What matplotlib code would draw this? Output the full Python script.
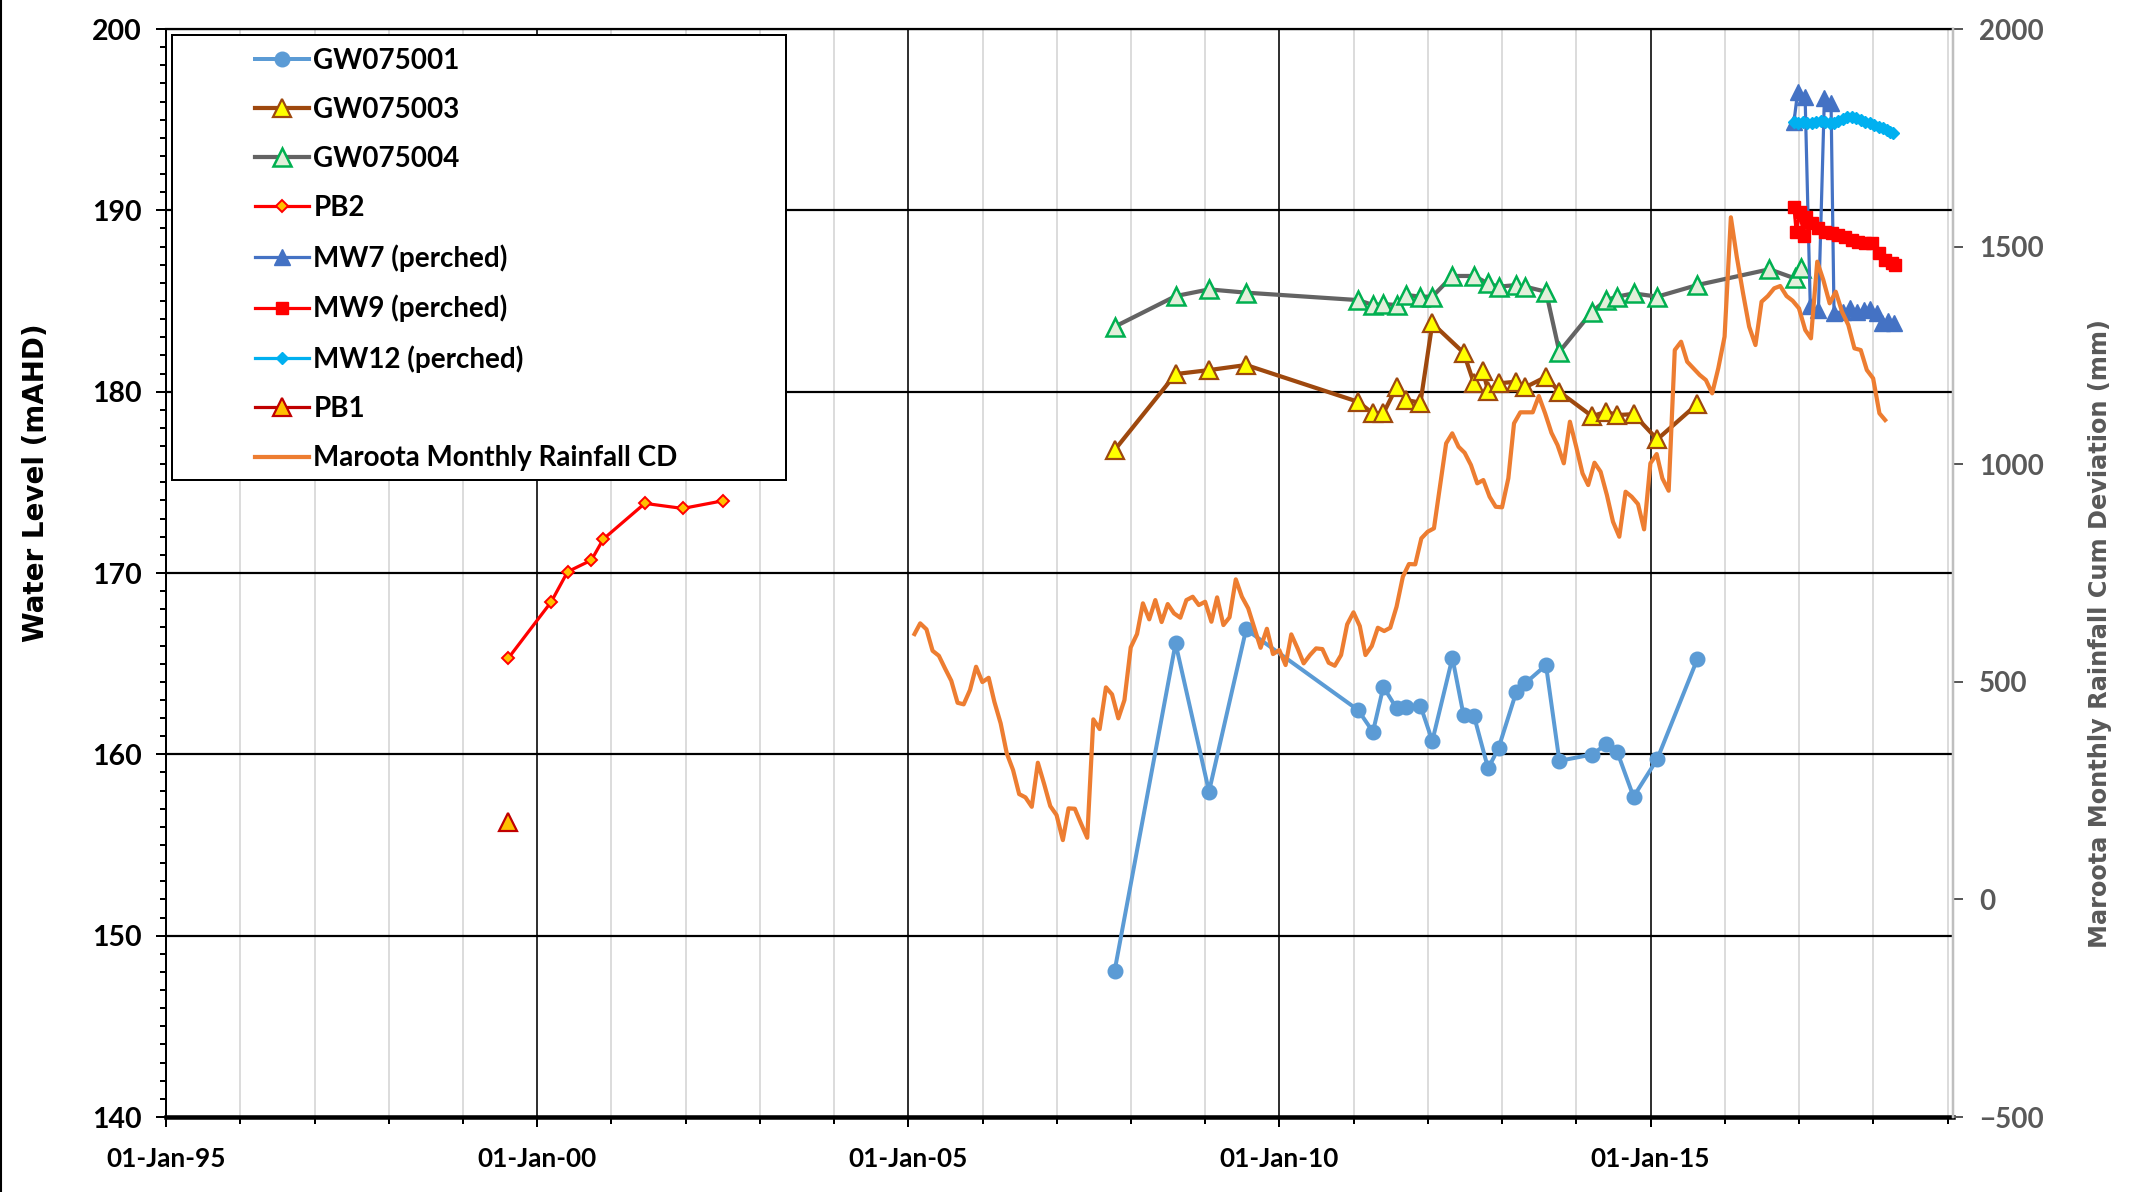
import datetime as dt
import numpy as np
import pandas as pd
import matplotlib
matplotlib.use("Agg")
import matplotlib.pyplot as plt
import matplotlib.dates as mdates
from matplotlib.lines import Line2D
from matplotlib.patches import Rectangle
from matplotlib.ticker import MultipleLocator

plt.rcParams["font.family"] = ["Lato", "DejaVu Sans"]
plt.rcParams["font.weight"] = "bold"

# ---------------- data (dates as decimal years) ----------------
gw001_dates = [2007.78, 2008.60, 2009.05, 2009.55, 2011.06, 2011.26, 2011.40, 2011.58, 2011.71,
               2011.90, 2012.06, 2012.33, 2012.48, 2012.62, 2012.81, 2012.95, 2013.19, 2013.31,
               2013.59, 2013.77, 2014.21, 2014.40, 2014.55, 2014.77, 2015.09, 2015.63]
gw001_level = [148.06, 166.12, 157.95, 166.89, 162.44, 161.24, 163.72, 162.53, 162.62,
               162.68, 160.74, 165.32, 162.16, 162.12, 159.22, 160.34, 163.45, 163.92,
               164.92, 159.64, 159.99, 160.55, 160.14, 157.66, 159.74, 165.25]

gw003_dates = [2007.78, 2008.60, 2009.05, 2009.55, 2011.06, 2011.26, 2011.40, 2011.58, 2011.71,
               2011.90, 2012.06, 2012.48, 2012.62, 2012.74, 2012.81, 2012.95, 2013.19, 2013.31,
               2013.59, 2013.77, 2014.21, 2014.40, 2014.55, 2014.77, 2015.09, 2015.63]
gw003_level = [176.78, 180.97, 181.19, 181.47, 179.44, 178.80, 178.80, 180.27, 179.54,
               179.39, 183.77, 182.15, 180.46, 181.14, 180.05, 180.46, 180.55, 180.24,
               180.82, 179.99, 178.65, 178.89, 178.71, 178.76, 177.37, 179.32]

gw004_dates = [2007.78, 2008.60, 2009.05, 2009.55, 2011.06, 2011.26, 2011.40, 2011.58, 2011.71,
               2011.90, 2012.06, 2012.33, 2012.62, 2012.81, 2012.95, 2013.19, 2013.31, 2013.59,
               2013.77, 2014.21, 2014.40, 2014.55, 2014.77, 2015.09, 2015.63, 2016.60, 2016.94,
               2017.02]
gw004_level = [183.58, 185.27, 185.64, 185.46, 185.05, 184.78, 184.83, 184.78, 185.33,
               185.24, 185.24, 186.38, 186.38, 185.97, 185.79, 185.88, 185.79, 185.51,
               182.20, 184.41, 185.05, 185.24, 185.42, 185.24, 185.88, 186.75, 186.25,
               186.80]

pb2_dates = [1999.61, 2000.19, 2000.41, 2000.73, 2000.89, 2001.45, 2001.96, 2002.50]
pb2_level = [165.29, 168.41, 170.07, 170.71, 171.87, 173.84, 173.56, 173.98]

pb1_dates = [1999.61]
pb1_level = [156.28]

mw7_dates = [2016.93, 2016.98, 2017.08, 2017.15, 2017.26, 2017.34, 2017.43, 2017.47, 2017.59,
             2017.69, 2017.78, 2017.87, 2017.96, 2018.05, 2018.12, 2018.20, 2018.28]
mw7_level = [194.87, 196.54, 196.27, 184.70, 184.50, 196.18, 195.94, 184.35, 184.40,
             184.59, 184.41, 184.50, 184.54, 184.35, 183.80, 183.91, 183.77]

mw9_dates = [2016.93, 2016.96, 2017.01, 2017.06, 2017.09, 2017.17, 2017.26, 2017.35, 2017.44,
             2017.53, 2017.62, 2017.71, 2017.80, 2017.89, 2017.98, 2018.07, 2018.16, 2018.25,
             2018.29]
mw9_level = [190.20, 188.80, 189.90, 188.60, 189.65, 189.28, 189.01, 188.82, 188.73,
             188.64, 188.54, 188.36, 188.27, 188.21, 188.18, 187.63, 187.26, 187.08,
             186.98]

mw12_dates = [2016.93, 2016.99, 2017.05, 2017.11, 2017.17, 2017.23, 2017.29, 2017.35, 2017.41,
              2017.47, 2017.53, 2017.59, 2017.65, 2017.71, 2017.77, 2017.83, 2017.89, 2017.95,
              2018.01, 2018.07, 2018.13, 2018.19, 2018.23, 2018.27]
mw12_level = [194.89, 194.80, 194.89, 194.80, 194.83, 194.89, 194.94, 194.89, 194.80,
              194.83, 194.94, 195.02, 195.13, 195.16, 195.07, 194.98, 194.89, 194.80,
              194.70, 194.61, 194.52, 194.45, 194.34, 194.25]

rain_start = "2005-01-31"   # monthly (month end) from Jan 2005
rain_cd = [609.7, 634.3, 620.5, 571.3, 559.8, 530.9, 502.4, 451.8, 448.2, 481.0, 534.6, 499.4,
           509.3, 454.1, 404.5, 335.6, 297.2, 242.0, 234.4, 212.8, 314.0, 265.0, 214.5, 193.8,
           136.3, 209.2, 208.3, 174.7, 141.6, 413.7, 391.4, 487.2, 471.1, 416.0, 458.0, 579.1,
           609.7, 680.3, 643.5, 687.8, 637.3, 678.6, 657.3, 647.2, 687.8, 695.4, 676.4, 683.9,
           638.0, 694.0, 630.4, 648.1, 735.4, 695.4, 668.8, 622.8, 578.2, 621.9, 563.7, 572.9,
           538.5, 609.0, 576.8, 542.4, 561.5, 576.8, 575.2, 543.8, 536.9, 561.5, 632.0, 659.6,
           628.1, 561.5, 582.1, 624.2, 616.6, 624.2, 672.5, 741.4, 770.6, 769.9, 829.6, 844.8,
           852.6, 947.0, 1047.9, 1070.9, 1040.1, 1026.3, 998.1, 956.0, 963.6, 925.2, 902.2, 900.9,
           967.5, 1093.9, 1119.2, 1119.2, 1119.2, 1156.6, 1116.9, 1072.3, 1044.0, 1002.0, 1097.6, 1040.1,
           979.0, 952.1, 1003.4, 982.7, 929.1, 867.8, 833.3, 936.7, 925.2, 908.4, 850.3, 1002.0,
           1023.3, 967.5, 939.0, 1262.3, 1281.4, 1235.5, 1220.3, 1204.9, 1193.4, 1162.8, 1220.3, 1292.9,
           1567.3, 1476.7, 1392.6, 1315.9, 1273.8, 1373.3, 1386.4, 1404.1, 1409.4, 1386.4, 1375.6, 1358.2,
           1308.3, 1289.2, 1465.3, 1423.2, 1369.7, 1396.3, 1350.4, 1319.8, 1266.2, 1262.3, 1216.4, 1197.3,
           1116.9, 1101.5]

x_start = "1995-01-01"
x_end = "2019-01-28"


def to_dates(years):
    out = []
    for d in years:
        y = int(np.floor(d))
        a = dt.datetime(y, 1, 1)
        b = dt.datetime(y + 1, 1, 1)
        out.append(a + (b - a) * (d - y))
    return out


rain_dates = pd.date_range(rain_start, periods=len(rain_cd), freq="ME")

# ---------------- figure ----------------
W, H = 2134, 1192
fig = plt.figure(figsize=(W / 100, H / 100), dpi=100)
fig.patch.set_facecolor("white")
L, R, T, B = 166, 1953, 29, 1117
ax = fig.add_axes([L / W, 1 - B / H, (R - L) / W, (B - T) / H])
ax2 = ax.twinx()

PX = 0.72  # points per pixel

ax.plot(to_dates(gw001_dates), gw001_level, "-o", color="#5B9BD5", lw=4 * PX, ms=10.5,
        mec="#5B9BD5", mfc="#5B9BD5", label="GW075001", zorder=3)
ax.plot(to_dates(gw003_dates), gw003_level, "-^", color="#9E480E", lw=4.2 * PX, ms=13.5,
        mfc="#FFFF00", mec="#9E480E", mew=1.6, label="GW075003", zorder=3)
ax.plot(to_dates(gw004_dates), gw004_level, "-^", color="#636363", lw=4.2 * PX, ms=13.5,
        mfc="#E2EFDA", mec="#00B050", mew=1.8, label="GW075004", zorder=3)
ax.plot(to_dates(pb2_dates), pb2_level, "-D", color="#FF0000", lw=3.2 * PX, ms=6.5,
        mfc="#FFC000", mec="#FF0000", mew=1.4, label="PB2", zorder=3)
ax.plot(to_dates(mw7_dates), mw7_level, "-^", color="#4472C4", lw=3.2 * PX, ms=11,
        mfc="#4472C4", mec="#4472C4", label="MW7 (perched)", zorder=3)
ax.plot(to_dates(mw9_dates), mw9_level, "-s", color="#FF0000", lw=3.2 * PX, ms=8,
        mfc="#FF0000", mec="#FF0000", label="MW9 (perched)", zorder=3)
ax.plot(to_dates(mw12_dates), mw12_level, "-D", color="#00B0F0", lw=3.2 * PX, ms=6,
        mfc="#00B0F0", mec="#00B0F0", label="MW12 (perched)", zorder=3)
ax.plot(to_dates(pb1_dates), pb1_level, "-^", color="#C00000", lw=3.2 * PX, ms=13.5,
        mfc="#FFC000", mec="#C00000", mew=1.6, label="PB1", zorder=3)
ax2.plot(rain_dates, rain_cd, "-", color="#ED7D31", lw=4.2 * PX,
         label="Maroota Monthly Rainfall CD", zorder=3)

# ---------------- axes formatting ----------------
ax.set_xlim(pd.Timestamp(x_start), pd.Timestamp(x_end))
ax.set_ylim(140, 200)
ax2.set_ylim(-500, 2000)

ax.xaxis.set_major_locator(mdates.YearLocator(5))
ax.xaxis.set_minor_locator(mdates.YearLocator(1))
ax.xaxis.set_major_formatter(mdates.DateFormatter("%d-%b-%y"))
ax.yaxis.set_major_locator(MultipleLocator(10))
ax.yaxis.set_minor_locator(MultipleLocator(1))
ax2.yaxis.set_major_locator(MultipleLocator(500))

ax.set_axisbelow(True)
ax.grid(True, axis="y", which="major", color="black", lw=2.2 * PX)
ax.grid(True, axis="x", which="major", color="black", lw=1.6 * PX)
ax.grid(True, axis="x", which="minor", color="#D9D9D9", lw=1.8 * PX)

ax.spines["right"].set_visible(False)
ax.spines["left"].set_color("black")
ax.spines["left"].set_linewidth(2 * PX)
ax.spines["top"].set_color("black")
ax.spines["top"].set_linewidth(2.2 * PX)
ax.spines["bottom"].set_color("black")
ax.spines["bottom"].set_linewidth(4.5 * PX)
for s in ["left", "top", "bottom"]:
    ax2.spines[s].set_visible(False)
ax2.spines["right"].set_color("#BFBFBF")
ax2.spines["right"].set_linewidth(2.5 * PX)

ax.tick_params(axis="x", which="major", direction="out", length=10 * PX, width=2 * PX,
               pad=20 * PX, labelsize=18.8, colors="black")
ax.tick_params(axis="x", which="minor", direction="out", length=7 * PX, width=2 * PX)
ax.tick_params(axis="y", which="major", direction="out", length=10 * PX, width=2 * PX,
               pad=14 * PX, labelsize=20.5, colors="black")
ax.tick_params(axis="y", which="minor", direction="out", length=6 * PX, width=2 * PX)
ax2.tick_params(axis="y", which="major", direction="out", length=10 * PX, width=2 * PX,
                pad=16 * PX, labelsize=20, colors="#595959")

for lab in ax.get_xticklabels() + ax.get_yticklabels() + ax2.get_yticklabels():
    lab.set_fontweight("bold")

# axis titles
fig.text(36 / W, 1 - 483 / H, "Water Level (mAHD)", rotation=90, ha="center", va="center",
         fontsize=20, fontweight="bold", family="DejaVu Sans", color="black")
fig.text(2100 / W, 1 - 634 / H, "Maroota Monthly Rainfall Cum Deviation (mm)", rotation=90,
         ha="center", va="center", fontsize=17.3, fontweight="bold", family="DejaVu Sans",
         color="#595959")

# legend with manual frame
fig.patches.append(Rectangle((172 / W, 1 - 480 / H), (786 - 172) / W, (480 - 35) / H,
                             transform=fig.transFigure, facecolor="white", edgecolor="black",
                             lw=2 * PX, zorder=4))
h1, l1 = ax.get_legend_handles_labels()
h2, l2 = ax2.get_legend_handles_labels()
leg = fig.legend(h1 + h2, l1 + l2, loc="upper left", bbox_to_anchor=(255 / W, 1 - 48 / H),
                 frameon=False, fontsize=20, handlelength=1.95, handletextpad=0.15,
                 labelspacing=0.83, borderpad=0, borderaxespad=0)
leg.set_zorder(5)

# left border of chart area
fig.add_artist(Line2D([0.0007, 0.0007], [0, 1], color="black", lw=1.5,
                      transform=fig.transFigure))

fig.savefig("out.png", dpi=100, facecolor="white")
